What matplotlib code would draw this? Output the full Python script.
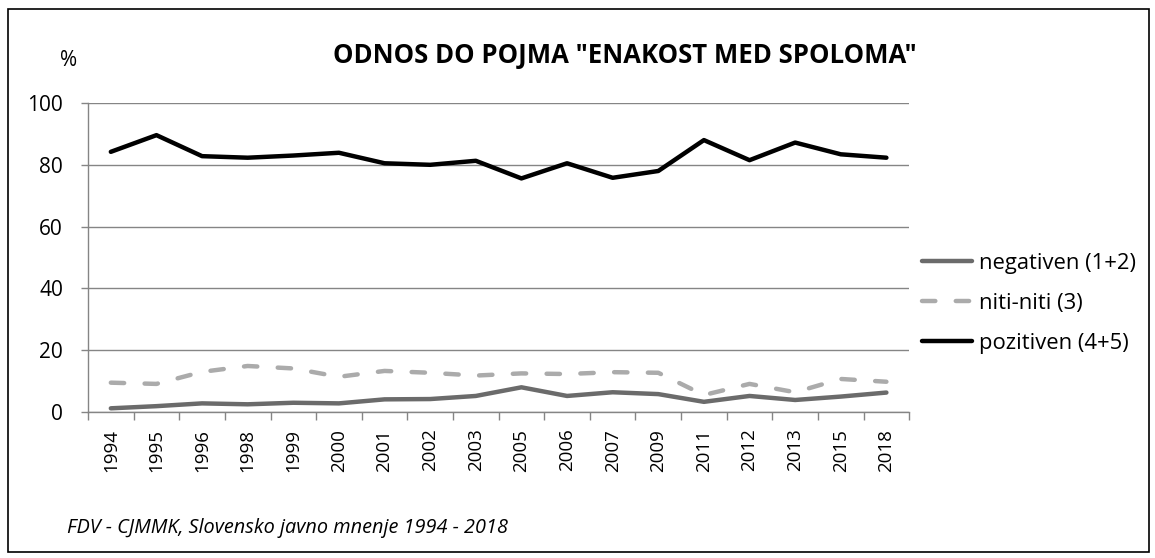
import numpy as np
import matplotlib.pyplot as plt
from matplotlib.patches import Rectangle

plt.rcParams['font.family'] = ['Open Sans', 'DejaVu Sans']

years = ["1994", "1995", "1996", "1998", "1999", "2000", "2001", "2002", "2003",
         "2005", "2006", "2007", "2009", "2011", "2012", "2013", "2015", "2018"]
negativen = [1.2, 1.9, 2.8, 2.5, 3.0, 2.8, 4.1, 4.2, 5.2,
             8.0, 5.2, 6.4, 5.8, 3.3, 5.2, 3.9, 5.0, 6.3]
niti_niti = [9.5, 9.1, 13.0, 14.9, 14.1, 11.4, 13.3, 12.7, 11.8,
             12.5, 12.3, 12.9, 12.7, 5.5, 9.1, 6.4, 10.7, 9.8]
pozitiven = [84.2, 89.6, 82.8, 82.3, 83.0, 83.9, 80.5, 80.0, 81.3,
             75.6, 80.5, 75.8, 78.0, 88.0, 81.5, 87.2, 83.4, 82.3]

fig = plt.figure(figsize=(11.55, 5.58), dpi=100)
ax = fig.add_axes([0.0762, 0.2616, 0.711, 0.5538])

x = np.arange(len(years))
l1, = ax.plot(x, negativen, color="#6b6b6b", lw=3.2, solid_capstyle="round",
              label="negativen (1+2)")
l2, = ax.plot(x, niti_niti, color="#ababab", lw=3.2, dashes=(3.0, 4.6),
              dash_capstyle="round", label="niti-niti (3)")
l3, = ax.plot(x, pozitiven, color="black", lw=3.2, solid_capstyle="round",
              label="pozitiven (4+5)")

ax.set_xlim(-0.5, len(years) - 0.5)
ax.set_ylim(0, 100)
ax.set_yticks([0, 20, 40, 60, 80, 100])
ax.yaxis.grid(True, color="#858585", lw=1)
ax.set_axisbelow(True)
ax.set_xticks(x)
ax.set_xticklabels(years, rotation=90, fontsize=13.5)
ax.set_xticks(np.arange(len(years) + 1) - 0.5, minor=True)
ax.tick_params(axis="x", which="major", length=0, pad=12)
ax.tick_params(axis="x", which="minor", length=6, color="#858585", width=1)
ax.tick_params(axis="y", length=5, color="#858585", width=1, labelsize=15, pad=13)
for s in ["top", "right"]:
    ax.spines[s].set_visible(False)
for s in ["left", "bottom"]:
    ax.spines[s].set_color("#858585")
    ax.spines[s].set_linewidth(1)

fig.text(0.541, 0.90, 'ODNOS DO POJMA "ENAKOST MED SPOLOMA"', ha="center", va="center",
         fontsize=18.5, fontweight="bold")
fig.text(0.059, 0.892, "%", ha="center", va="center", fontsize=15)
fig.text(0.058, 0.054, "FDV - CJMMK, Slovensko javno mnenje 1994 - 2018", ha="left",
         va="center", fontsize=14.3, style="italic")

fig.legend(handles=[l1, l2, l3], loc="upper left", bbox_to_anchor=(0.781, 0.582),
           frameon=False, fontsize=15.8, handlelength=2.3, labelspacing=0.86,
           handletextpad=0.3)

fig.patches.append(Rectangle((0.007, 0.011), 0.988, 0.972, transform=fig.transFigure,
                             fill=False, edgecolor="black", lw=1.2))

fig.savefig("out.png", dpi=100)
